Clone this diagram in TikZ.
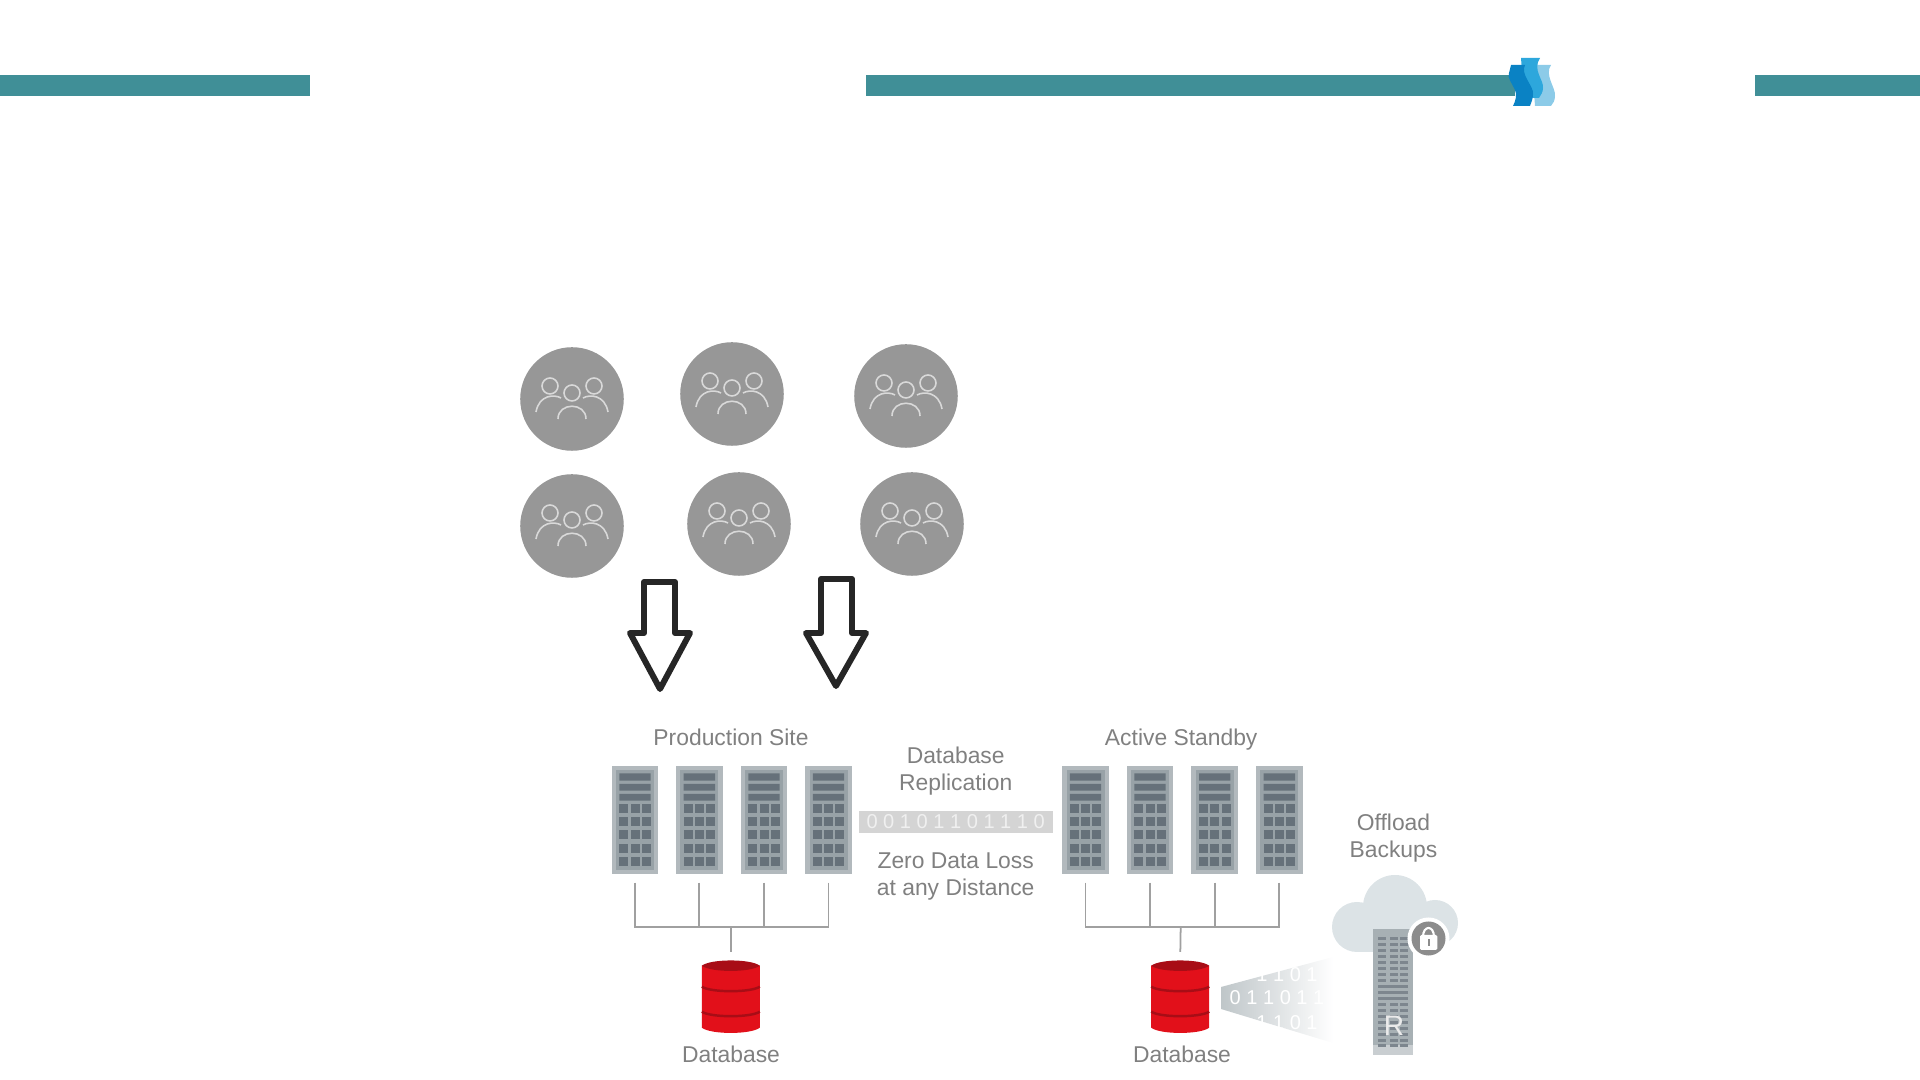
\documentclass[tikz,border=0pt]{standalone}
\usepackage{fontspec}
\setmainfont{Liberation Sans}
\usetikzlibrary{positioning}
\definecolor{tealbar}{HTML}{408F97}
\definecolor{crowdgray}{HTML}{979797}
\definecolor{labelgray}{HTML}{808080}
\definecolor{wiregray}{HTML}{A0A0A0}
\definecolor{rackout}{HTML}{B2B9BD}
\definecolor{rackin}{HTML}{98A2A7}
\definecolor{rackdark}{HTML}{66717A}
\definecolor{dbred}{HTML}{E2101A}
\definecolor{dbdark}{HTML}{A80D16}
\definecolor{cloudgray}{HTML}{DCE3E6}
\definecolor{beamgray}{HTML}{BFC6C9}
\definecolor{logodark}{HTML}{0A82C4}
\definecolor{logomid}{HTML}{2DA7DC}
\definecolor{logolight}{HTML}{8CCBE8}
\begin{document}
\begin{tikzpicture}[x=0.01cm, y=-0.01cm,
    bar style/.style={fill=tealbar},
    site label/.style={text=labelgray, align=center, font=\fontsize{6.5}{7.9}\selectfont},
    wire style/.style={draw=wiregray, line width=0.5pt, shorten <=0.08cm},
    big arrow/.style={draw=black!85, line width=1.7pt, line join=round, fill=white},
    crowd/.pic={
        \node[circle, fill=crowdgray, minimum size=1.035cm, inner sep=0pt] (-body) at (0,0) {};
        \draw[draw=white!85!black, line width=0.45pt]
            (0,-6) circle (8) (-22,-13) circle (8) (22,-13) circle (8)
            (-14,20) .. controls (-14,3) and (14,3) .. (14,20)
            (-36,13) .. controls (-33,-4) and (-18,-5) .. (-11,-1)
            (36,13) .. controls (33,-4) and (18,-5) .. (11,-1);
    },
    rack/.pic={
        \node[rectangle, fill=rackout, minimum width=0.466cm, minimum height=1.08cm, inner sep=0pt] (-body) at (0,0) {};
        \fill[rackin] (-19,-50) rectangle (19,50);
        \fill[rackdark] (-15.6,-46.7) rectangle (15.7,-39.3) (-15.6,-36) rectangle (15.7,-29.3) (-15.6,-26) rectangle (15.7,-19.3);
        \foreach \yy in {-15.7,-2.6,10.5,23.6,36.7}
            \foreach \xx in {-15.6,-4.4,6.8}
                \fill[rackdark] (\xx,\yy) rectangle ++(9,9);
    },
    database/.pic={
        \node[rectangle, minimum width=0.58cm, minimum height=0.72cm, inner sep=0pt] (-body) at (0,0) {};
        \fill[dbred] (-29,-31) -- (-29,31) .. controls (-20,38) and (20,38) .. (29,31) -- (29,-31) -- cycle;
        \fill[dbdark] (-29,-31) .. controls (-20,-38) and (20,-38) .. (29,-31) .. controls (20,-24) and (-20,-24) .. (-29,-31);
        \draw[dbdark, line width=0.7pt] (-29,-10) .. controls (-20,-4) and (20,-4) .. (29,-10) (-29,15) .. controls (-20,21) and (20,21) .. (29,15);
    }]

    % =========================================================================
    % Top band and logo
    % =========================================================================
    \fill[bar style] (0,75) rectangle (310,95.7);
    \fill[bar style] (866,75) rectangle (1515,95.7);
    \fill[bar style] (1755,75) rectangle (1920,95.7);
    \useasboundingbox (0,0) rectangle (1920,1080);

    \fill[logolight] (1532,65) -- (1551,65) .. controls (1544,75) and (1556,88) .. (1555,96) .. controls (1555,101) and (1553,103) .. (1551,106) -- (1535,106) -- cycle;
    \fill[logomid] (1521,58) -- (1540,58) .. controls (1532,70) and (1544,80) .. (1543,88) .. controls (1543,92) and (1541,95) .. (1539,98) -- (1524,98) -- cycle;
    \fill[logodark] (1511,65) -- (1525,65) .. controls (1520,75) and (1534,86) .. (1533,94) .. controls (1533,99) and (1531,103) .. (1530,106) -- (1513,106) .. controls (1516,100) and (1517,95) .. (1515,90) .. controls (1512,83) and (1507,78) .. (1509,73) -- cycle;

    % =========================================================================
    % Grupos de usuarios
    % =========================================================================
    \pic (u1) at (572,399) {crowd};
    \pic (u2) at (732,394) {crowd};
    \pic (u3) at (906,396) {crowd};
    \pic (u4) at (572,526) {crowd};
    \pic (u5) at (739,524) {crowd};
    \pic (u6) at (912,524) {crowd};

    % Flechas
    \draw[big arrow] (644,582) -- (675,582) -- (675,633) -- (690,633) -- (660,689) -- (630,633) -- (644,633) -- cycle;
    \draw[big arrow] (821,579) -- (852,579) -- (852,633) -- (866,633) -- (836,686) -- (806,633) -- (821,633) -- cycle;

    % =========================================================================
    % Production Site
    % =========================================================================
    \node[site label] (prodlabel) at (731,737) {Production Site};
    \pic (p1) at (635,820) {rack};
    \pic (p2) at (699.3,820) {rack};
    \pic (p3) at (764,820) {rack};
    \pic (p4) at (828.5,820) {rack};
    \pic (pdb) at (730.8,996.7) {database};
    \node[site label] (pdblabel) at (731,1054) {Database};

    \coordinate (pbus) at (730.8,926.7);
    \draw[wire style] (p1-body.south) |- (pbus);
    \draw[wire style] (p2-body.south) |- (pbus);
    \draw[wire style] (p3-body.south) |- (pbus);
    \draw[wire style] (p4-body.south) |- (pbus);
    \draw[wire style, shorten <=0cm, shorten >=0.08cm] (pbus) -- (pdb-body.north);

    % =========================================================================
    % Replication
    % =========================================================================
    \node[site label] (replabel) at (955.7,771) {Database\\Replication};
    \node[fill=black!17, text=black!6, minimum width=1.94cm, minimum height=0.226cm, inner sep=0pt, font=\fontsize{5.7}{6}\selectfont] (bits) at (955.7,822) {0 0 1 0 1 1 0 1 1 1 0};
    \node[site label] (zerolabel) at (955.7,876.5) {Zero Data Loss\\at any Distance};

    % =========================================================================
    % Active Standby
    % =========================================================================
    \node[site label] (standbylabel) at (1181.2,739.5) {Active Standby};
    \pic (s1) at (1085.5,820) {rack};
    \pic (s2) at (1150,820) {rack};
    \pic (s3) at (1214.7,820) {rack};
    \pic (s4) at (1279.3,820) {rack};
    \pic (sdb) at (1180.2,996.7) {database};
    \node[site label] (sdblabel) at (1182,1054) {Database};

    \coordinate (sbus) at (1180.7,926.7);
    \draw[wire style] (s1-body.south) |- (sbus);
    \draw[wire style] (s2-body.south) |- (sbus);
    \draw[wire style] (s3-body.south) |- (sbus);
    \draw[wire style] (s4-body.south) |- (sbus);
    \draw[wire style, shorten <=0cm, shorten >=0.08cm] (sbus) -- (sdb-body.north);

    % =========================================================================
    % Offload Backups
    % =========================================================================
    \node[site label] (offlabel) at (1393.5,838) {Offload\\Backups};

    % Nube
    \fill[cloudgray] (1395,907) circle (32) (1357,927) circle (25) (1435,923) circle (23);
    \fill[cloudgray] (1357,930) rectangle (1435,952);

    % Haz de datos
    \shade[left color=beamgray, right color=white, shading angle=90] (1221,987) -- (1333,957) -- (1333,1043) -- (1221,1009) -- cycle;
    \node[text=white, font=\fontsize{5.7}{6}\selectfont] (bitsa) at (1287,975) {1 1 0 1};
    \node[text=white, font=\fontsize{5.7}{6}\selectfont] (bitsb) at (1277,998) {0 1 1 0 1 1};
    \node[text=white, font=\fontsize{5.7}{6}\selectfont] (bitsc) at (1287,1023) {1 1 0 1};

    % Rack de respaldo
    \node[rectangle, fill=rackin!85!white, minimum width=0.406cm, minimum height=1.16cm, inner sep=0pt] (backup) at (1393,987) {};
    \fill[rackout!70!white] (1373,1045) rectangle (1413,1055);
    \foreach \yy in {937,943,949,955,961,967,973,979,1003,1009,1015,1021,1027,1033,1039,1044}
        \foreach \xx in {1378,1390,1400}
            \fill[rackdark!85!white] (\xx,\yy) rectangle ++(7.5,2.6);
    \foreach \yy in {985,991,997}
        \fill[rackdark!85!white] (1378,\yy) rectangle (1407.5,\yy+2.6);
    \node[text=white!92!black, font=\fontsize{8}{9}\selectfont] (rlabel) at (1394,1026) {R};

    % Candado
    \node[circle, fill=white, minimum size=0.42cm, inner sep=0pt] (lockring) at (1428.5,938.5) {};
    \node[circle, fill=black!45, minimum size=0.34cm, inner sep=0pt] (lockdisc) at (lockring) {};
    \draw[white, line width=0.6pt] (1423,937) .. controls (1423,925) and (1434,925) .. (1434,937);
    \fill[white, rounded corners=0.4pt] (1420,935) rectangle (1437.3,950);
    \fill[black!45] (1427.5,939) rectangle (1429.5,946);

\end{tikzpicture}
\end{document}
